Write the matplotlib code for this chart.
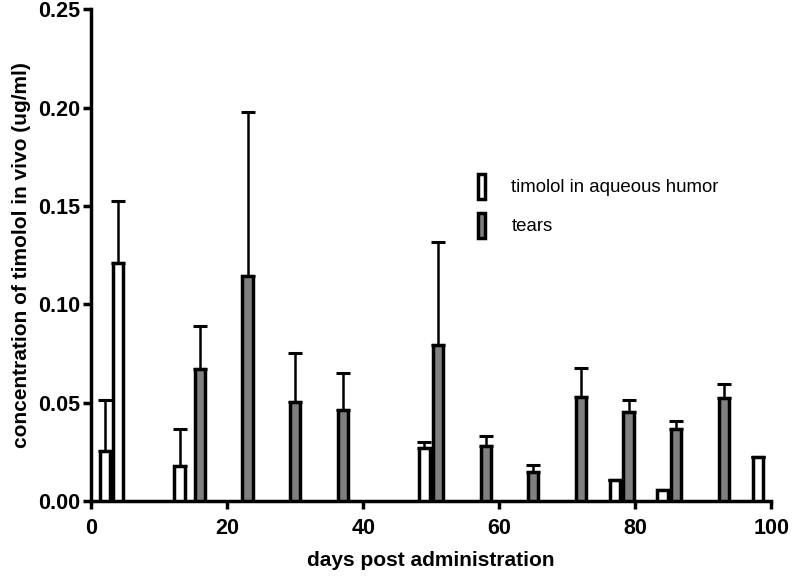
import matplotlib
matplotlib.use("Agg")
import matplotlib.pyplot as plt
from matplotlib.patches import Patch
import numpy as np

plt.rcParams['font.family'] = ['Liberation Sans', 'DejaVu Sans']

# aqueous humor (white bars)
aq_days = [2, 4, 13, 49, 77, 84, 98]
aq_mean = [0.0254, 0.121, 0.0179, 0.0271, 0.0107, 0.0056, 0.0222]
aq_top = [0.0513, 0.1526, 0.0364, 0.0298, 0.0107, 0.0056, 0.0222]

# tears (grey bars)
tear_days = [16, 23, 30, 37, 51, 58, 65, 72, 79, 86, 93]
tear_mean = [0.067, 0.1143, 0.0505, 0.0462, 0.0793, 0.0281, 0.0149, 0.0528, 0.0454, 0.0366, 0.0523]
tear_top = [0.0889, 0.198, 0.0752, 0.065, 0.1316, 0.0332, 0.0186, 0.0676, 0.0513, 0.0407, 0.0595]

fig = plt.figure(figsize=(7.92, 5.76), dpi=100)
ax = fig.add_axes([0.115, 0.13, 0.859, 0.854])

bw = 1.5
grey = '#808080'

def draw(days, mean, top, fc):
    mean = np.array(mean)
    err = np.array(top) - mean
    ax.bar(days, mean, width=bw, color=fc, edgecolor='black', linewidth=2.5, zorder=3)
    ax.errorbar(days, mean, yerr=[np.zeros_like(err), err], fmt='none', ecolor='black',
                elinewidth=1.8, capsize=5, capthick=2.2, zorder=2)

draw(aq_days, aq_mean, aq_top, 'white')
draw(tear_days, tear_mean, tear_top, grey)

ax.set_xlim(0, 100)
ax.set_ylim(0, 0.25)
ax.set_xticks([0, 20, 40, 60, 80, 100])
ax.set_yticks([0, 0.05, 0.10, 0.15, 0.20, 0.25])
ax.set_yticklabels(['0.00', '0.05', '0.10', '0.15', '0.20', '0.25'])

for s in ['top', 'right']:
    ax.spines[s].set_visible(False)
for s in ['left', 'bottom']:
    ax.spines[s].set_linewidth(2.5)
ax.tick_params(width=2.5, length=6, labelsize=15.5)
ax.tick_params(axis='x', pad=6)
ax.tick_params(axis='y', pad=2)
for lab in ax.get_xticklabels() + ax.get_yticklabels():
    lab.set_fontweight('bold')

ax.set_xlabel('days post administration', fontsize=15, fontweight='bold', labelpad=9)
ax.set_ylabel('concentration of timolol in vivo (ug/ml)', fontsize=15, fontweight='bold', labelpad=5)

handles = [Patch(facecolor='white', edgecolor='black', linewidth=2.5, label='timolol in aqueous humor'),
           Patch(facecolor=grey, edgecolor='black', linewidth=2.5, label='tears')]
ax.legend(handles=handles, loc='upper left', bbox_to_anchor=(0.544, 0.7), frameon=False,
          fontsize=13.4, handlelength=0.4, handleheight=1.7, handletextpad=1.4, labelspacing=0.75)

fig.savefig('out.png', dpi=100)
